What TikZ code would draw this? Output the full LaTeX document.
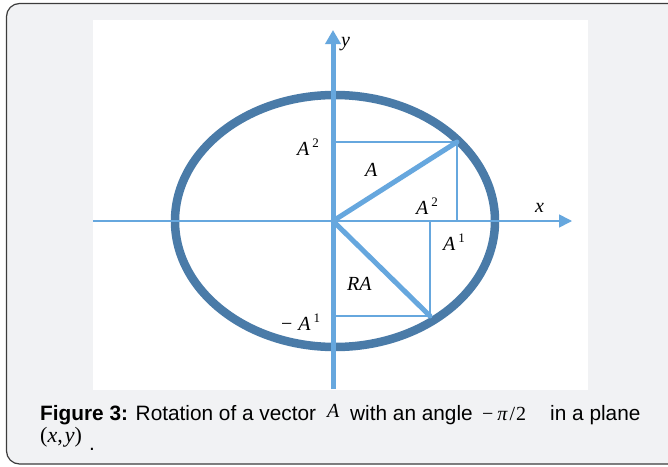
\documentclass[tikz,border=0pt]{standalone}
\usepackage{fontspec}
\setmainfont{Liberation Sans}
\newfontfamily\tnr{Liberation Serif}
\usetikzlibrary{arrows.meta}
\definecolor{AxisBlue}{HTML}{66A7DE}
\definecolor{RingBlue}{HTML}{4A7BA8}
\definecolor{PanelGray}{HTML}{F1F2F4}
\definecolor{FrameGray}{HTML}{3C3C3C}
\newcommand\Asup[1]{A\hspace{3pt}\raisebox{8pt}{\upshape\fontsize{13}{13}\selectfont #1}}

\begin{document}
\begin{tikzpicture}[x=1pt,y=-1pt]
  \tikzstyle{lbl}=[inner sep=0pt,anchor=base west,
    font=\tnr\itshape\fontsize{20}{20}\selectfont]
  \tikzstyle{captxt}=[inner sep=0pt,anchor=base west,
    font=\fontsize{20.8}{20.8}\selectfont]
  \tikzstyle{projline}=[AxisBlue,line width=1.4pt]
  \tikzstyle{vec}=[AxisBlue,line width=5pt]
  \useasboundingbox (0,0) rectangle (668,466);
  % panel and picture area
  \draw[FrameGray,line width=1.2pt,fill=PanelGray,rounded corners=13pt]
    (6.5,3.5) rectangle (682,464);
  \fill[white] (93,20) rectangle (588,390);
  % points
  \coordinate (O) at (333,221);
  \coordinate (xl) at (93,221);
  \coordinate (xr) at (572,221);
  \coordinate (yb) at (333,389);
  \coordinate (yt) at (333,30);
  \coordinate (a) at (457,142);
  \coordinate (a1) at (457,221);
  \coordinate (a2) at (333,142);
  \coordinate (ra) at (430,316);
  \coordinate (ra1) at (333,316);
  \coordinate (ra2) at (430,221);
  % circle
  \draw[RingBlue,line width=8.5pt] (335,221) ellipse [x radius=160pt,y radius=126pt];
  % axes
  \draw[AxisBlue,line width=1.6pt,-{Triangle[width=13pt,length=13pt]}] (xl)--(xr);
  \draw[AxisBlue,line width=5pt,-{Triangle[width=15pt,length=14pt]}] (yb)--(yt);
  % projections
  \draw[projline] (a2)--(a)--(a1);
  \draw[projline] (ra1)--(ra)--(ra2);
  % vectors
  \draw[vec,line cap=round] (O)--(a);
  \draw[vec,line cap=round] (O)--(ra);
  % labels
  \node[lbl] (ly) at (341,46) {y};
  \node[lbl] (lx) at (535,212) {x};
  \node[lbl] (la2l) at (297,155) {\Asup{2}};
  \node[lbl] (la) at (365,176) {A};
  \node[lbl] (la2r) at (416,214) {\Asup{2}};
  \node[lbl] (la1) at (443,250) {\Asup{1}};
  \node[lbl] (lra) at (347,290) {RA};
  \node[lbl] (lma1) at (281,330) {\upshape−\hspace{6pt}\itshape\Asup{1}};
  % caption
  \node[captxt] (c1) at (40,420) {\textbf{Figure 3:} Rotation of a vector};
  \node[captxt] (c2) at (327,417) {\tnr\itshape\fontsize{20}{20}\selectfont A};
  \node[captxt] (c3) at (350,420) {with an angle};
  \node[captxt] (c4) at (482,420) {\tnr\fontsize{20}{20}\selectfont −\hspace{4pt}\itshape π\upshape\hspace{2pt}/\hspace{1pt}2};
  \node[captxt] (c5) at (550,420) {in a plane};
  \node[captxt] (c6) at (40,442) {\tnr\fontsize{22}{22}\selectfont (\itshape x\upshape ,\hspace{2pt}\itshape y\upshape )};
  \node[captxt] (c7) at (89,450) {.};
\end{tikzpicture}
\end{document}
